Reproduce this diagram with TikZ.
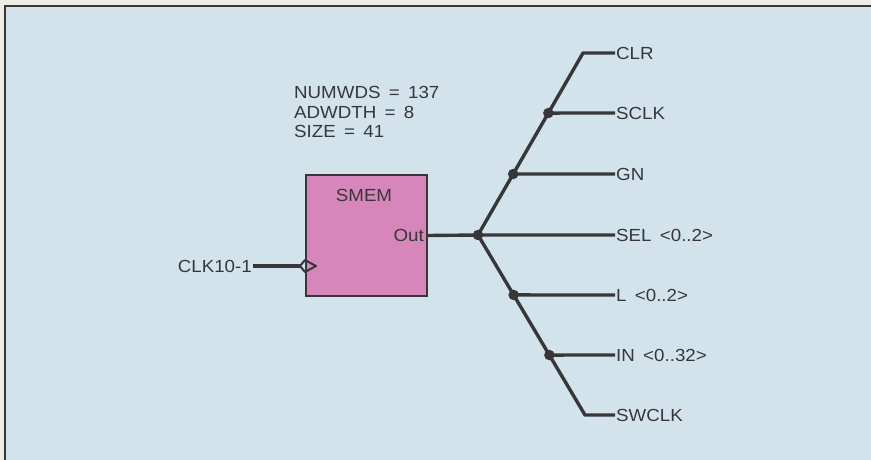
\documentclass[tikz,border=0pt]{standalone}
\usepackage{fontspec}
\setmainfont{Liberation Sans}[FakeStretch=1.07, WordSpace=1.6]
\usepackage{xcolor}
\usetikzlibrary{positioning, calc}

\definecolor{paper}{RGB}{238,237,229}
\definecolor{panel}{RGB}{211,227,236}
\definecolor{smempink}{RGB}{214,134,186}
\definecolor{ink}{RGB}{55,55,58}

\begin{document}
\begin{tikzpicture}[x=1pt, y=-1pt,
  every node/.style={font=\fontsize{17.5}{19.5}\selectfont, text=ink, inner sep=1pt},
  wire/.style={draw=ink, line width=3.4pt},
  tap/.style={circle, fill=ink, inner sep=0pt, minimum size=10.5pt}]
  \useasboundingbox (0,0) rectangle (871,460);
  % Hintergrund und Rahmen
  \fill[paper] (0,0) rectangle (871,460);
  \fill[panel] (5,6) rectangle (871,460);
  \draw[ink, line width=2pt] (5,460) -- (5,6) -- (871,6);
  % Baustein
  \node[draw=ink, line width=2pt, fill=smempink, minimum width=121pt, minimum height=121pt, anchor=north west] (smem) at (305,174) {};
  \node (name) at (364,195) {SMEM};
  \node[anchor=east] (out) at (425,235) {Out};
  \node[anchor=west, align=left] (params) at (293,112) {NUMWDS = 137\\ADWDTH = 8\\SIZE = 41};
  % Takteingang
  \node[anchor=east] (clk) at (253,266) {CLK10-1};
  \coordinate (clkpin) at (300,266);
  \draw[wire] (clk.east) -- (clkpin);
  \draw[ink, line width=2pt, line join=round] (300,266) -- (305,260) -- (316,266) -- (305,272) -- cycle;
  % Signale
  \node[anchor=west] (clr) at (615,53) {CLR};
  \node[anchor=west] (sclk) at (615,113) {SCLK};
  \node[anchor=west] (gn) at (615,174) {GN};
  \node[anchor=west] (sel) at (615,235) {SEL <0..2>};
  \node[anchor=west] (l) at (615,295) {L <0..2>};
  \node[anchor=west] (in) at (615,355) {IN <0..32>};
  \node[anchor=west] (swclk) at (615,415) {SWCLK};
  % Verzweigung
  \coordinate (j) at (478,235);
  \coordinate (ct) at (583,53);
  \coordinate (cb) at (585,415);
  \coordinate (d1) at ($(j)!0.670!(ct)$);
  \coordinate (d2) at ($(j)!0.335!(ct)$);
  \coordinate (d3) at ($(j)!0.333!(cb)$);
  \coordinate (d4) at ($(j)!0.667!(cb)$);
  \draw[wire] (smem.east) -- (j) -- (sel.west);
  \draw[wire, line join=round] (j) -- (ct) -- (clr.west);
  \draw[wire, line join=round] (j) -- (cb) -- (swclk.west);
  \draw[wire] (d1) -- (sclk.west);
  \draw[wire] (d2) -- (gn.west);
  \draw[wire] (d3) -- (l.west);
  \draw[wire] (d4) -- (in.west);
  \node[tap] at (j) {};
  \node[tap] at (d1) {};
  \node[tap] at (d2) {};
  \node[tap] at (d3) {};
  \node[tap] at (d4) {};
\end{tikzpicture}
\end{document}
